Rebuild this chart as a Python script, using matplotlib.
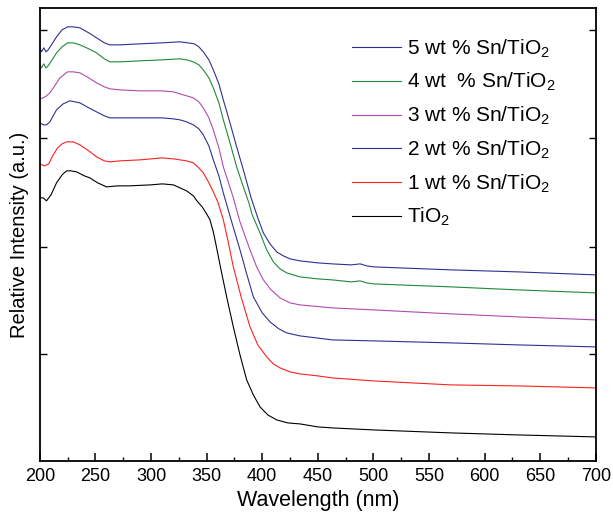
import matplotlib
matplotlib.use('Agg')
import matplotlib.pyplot as plt
from matplotlib.ticker import MultipleLocator

plt.rcParams['font.family'] = ['Liberation Sans', 'DejaVu Sans']
plt.rcParams['mathtext.fontset'] = 'custom'
plt.rcParams['mathtext.rm'] = 'Liberation Sans'
plt.rcParams['mathtext.default'] = 'regular'

# readings, intensity in arbitrary units
wl_tio2 = [200, 203, 206, 210, 215, 220, 224, 228, 233, 240, 245, 252, 260, 270, 280, 300,
           310, 320, 326, 332, 338, 342, 346, 350, 353, 356, 359, 362, 368, 374, 380, 386,
           392, 398, 405, 413, 423, 434, 450, 463, 500, 570, 630, 700]
int_tio2 = [262, 262, 259, 265, 277, 285, 289, 289, 288, 284, 282, 277, 273, 274, 274, 275,
            276, 275, 272, 269, 264, 258, 253, 246, 240, 228, 212, 195, 163, 133, 105, 80,
            65, 53, 45, 40, 37, 36, 33, 32, 30, 27, 25, 23]

wl_sn1 = [200, 204, 208, 212, 216, 220, 224, 230, 236, 244, 251, 258, 263, 272, 290, 310,
          320, 326, 332, 338, 343, 347, 352, 356, 360, 365, 369, 374, 381, 389, 396, 404,
          410, 416, 425, 434, 450, 463, 500, 570, 630, 700]
int_sn1 = [296, 294, 296, 305, 312, 316, 318, 318, 315, 309, 303, 299, 298, 299, 300, 302,
           301, 300, 299, 297, 292, 287, 277, 268, 258, 240, 220, 193, 163, 133, 115, 103,
           96, 92, 88, 86, 84, 82, 79, 75, 74, 72]

wl_sn2 = [200, 203, 206, 209, 215, 221, 227, 236, 244, 251, 258, 263, 272, 290, 310, 320,
          326, 332, 338, 343, 347, 352, 356, 361, 365, 372, 380, 386, 392, 400, 407, 415,
          422, 434, 463, 500, 570, 630, 700]
int_sn2 = [337, 335, 335, 338, 350, 356, 359, 357, 352, 348, 344, 342, 342, 342, 342, 341,
           340, 338, 335, 331, 325, 314, 300, 284, 267, 240, 210, 186, 163, 147, 138, 131,
           127, 124, 120, 119, 117, 115, 113]

wl_sn3 = [200, 203, 206, 209, 214, 218, 225, 230, 236, 244, 251, 258, 263, 272, 290, 310,
          320, 326, 332, 338, 343, 347, 352, 356, 361, 365, 370, 374, 380, 389, 395, 401,
          408, 416, 425, 434, 463, 500, 570, 630, 700]
int_sn3 = [361, 362, 364, 367, 375, 382, 388, 388, 387, 382, 377, 373, 371, 370, 369, 369,
           368, 366, 364, 362, 358, 352, 342, 330, 312, 293, 276, 262, 238, 210, 193, 180,
           170, 162, 157, 155, 152, 150, 146, 143, 140]

wl_sn4 = [200, 201.5, 203.5, 205.5, 207.5, 211, 215, 220, 225, 230, 236, 244, 251, 258, 263,
          272, 290, 310, 326, 332, 338, 343, 347, 352, 356, 361, 365, 371, 377, 383, 388,
          391, 398, 404, 410, 416, 422, 434, 450, 463, 480, 488, 494, 500, 570, 630, 700]
int_sn4 = [395, 392, 396, 392, 394, 400, 407, 413, 417, 417, 415, 411, 407, 401, 398,
           398, 399, 400, 401, 400, 398, 395, 390, 382, 372, 357, 340, 317, 293, 273, 257,
           245, 227, 210, 198, 191, 187, 183, 181, 180, 178, 179, 177, 176, 173, 170, 167]

wl_sn5 = [200, 201.5, 203.5, 205.5, 207.5, 211, 215, 220, 225, 230, 236, 244, 251, 258, 263,
          272, 290, 310, 326, 333, 339, 343, 347, 352, 356, 361, 365, 371, 377, 383, 390,
          396, 401, 407, 413, 419, 425, 434, 450, 463, 480, 488, 494, 500, 570, 630, 700]
int_sn5 = [412, 408, 412, 408, 410, 416, 423, 430, 433, 433, 432, 427, 422, 417, 415,
           415, 416, 417, 418, 417, 416, 413, 408, 400, 390, 376, 360, 337, 313, 290, 262,
           242, 227, 216, 208, 204, 201, 199, 197, 196, 195, 196, 194, 193, 190, 188, 185]

labels = ['5 wt % Sn/TiO$_2$', '4 wt  % Sn/TiO$_2$', '3 wt % Sn/TiO$_2$',
          '2 wt % Sn/TiO$_2$', '1 wt % Sn/TiO$_2$', 'TiO$_2$']
colors = ['#2e3192', '#1f8a3a', '#b04cb0', '#2e3192', '#ff2020', '#000000']

fig = plt.figure(figsize=(6.13, 5.22), dpi=100)
ax = fig.add_axes([0.065, 0.117, 0.907, 0.868])

series = [(wl_sn5, int_sn5), (wl_sn4, int_sn4), (wl_sn3, int_sn3),
          (wl_sn2, int_sn2), (wl_sn1, int_sn1), (wl_tio2, int_tio2)]
for (x, y), lab, c in zip(series, labels, colors):
    ax.plot(x, y, color=c, lw=0.8, label=lab)

ax.set_xlim(200, 700)
ax.set_ylim(-1, 452)
ax.xaxis.set_major_locator(MultipleLocator(50))
ax.xaxis.set_minor_locator(MultipleLocator(25))
ax.set_yticks([106, 213, 322, 430])
ax.set_yticklabels([])
ax.tick_params(axis='x', which='major', direction='in', length=6, width=1.1,
               labelsize=13, pad=5, top=False)
ax.tick_params(axis='x', which='minor', direction='in', length=3, width=1.0, top=False)
ax.tick_params(axis='y', which='major', direction='in', length=5, width=1.0,
               left=True, right=True)
for s in ax.spines.values():
    s.set_linewidth(1.3)

ax.set_xlabel('Wavelength (nm)', fontsize=15.5, labelpad=4)
ax.set_ylabel('Relative Intensity (a.u.)', fontsize=14.5, labelpad=4)

ax.legend(loc='upper left', bbox_to_anchor=(0.561, 0.935), frameon=False,
          fontsize=15, handlelength=2.35, handletextpad=0.3, labelspacing=0.55,
          borderpad=0, borderaxespad=0)

fig.savefig('out.png', dpi=100)
